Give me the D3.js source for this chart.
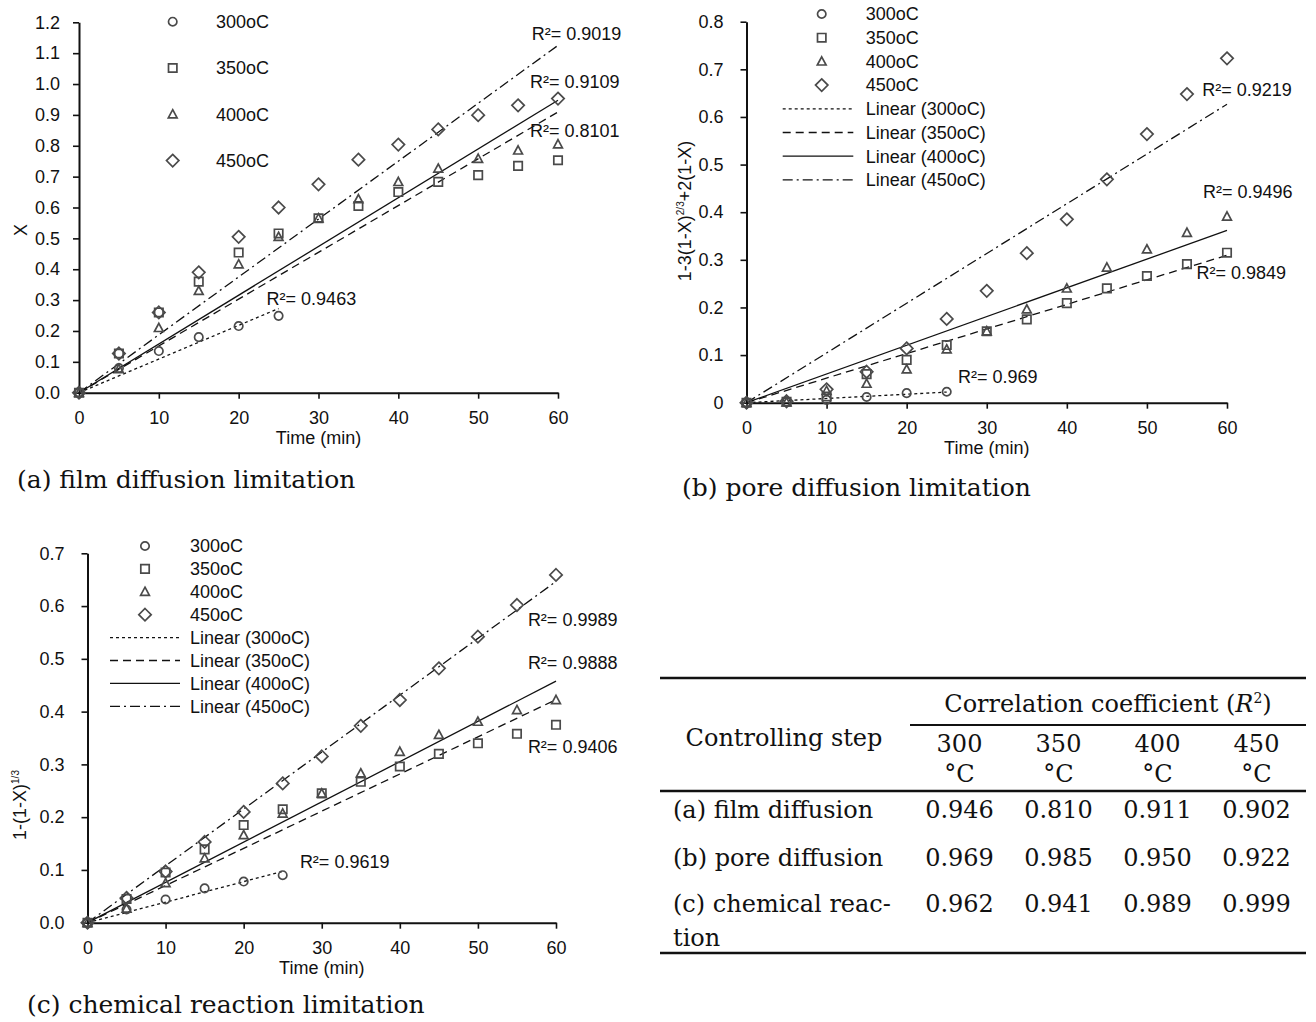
<!DOCTYPE html>
<html><head><meta charset="utf-8">
<script src="https://cdn.jsdelivr.net/npm/d3@7/dist/d3.min.js"></script>
<style>
body{margin:0;background:#fff}
svg text{font-family:"Liberation Sans",Arial,sans-serif;fill:#111}
svg text.serif{font-family:"DejaVu Serif","Liberation Serif",serif}
</style>
</head><body>
<svg id="chart" width="1316" height="1022"></svg>
<script>
// ---------------- DATA ----------------
const times = [0,5,10,15,20,25,30,35,40,45,50,55,60];
const seriesNames = ["300oC","350oC","400oC","450oC"];
const linearNames = ["Linear (300oC)","Linear (350oC)","Linear (400oC)","Linear (450oC)"];

// (a) film diffusion: X vs time
const film300 = [0,0.08,0.135,0.18,0.216,0.249];
const film350 = [0,0.127,0.26,0.36,0.454,0.516,0.565,0.605,0.65,0.683,0.705,0.735,0.753];
const film400 = [0,0.077,0.21,0.33,0.416,0.505,0.565,0.627,0.683,0.726,0.758,0.785,0.805];
const film450 = [0,0.127,0.26,0.39,0.505,0.60,0.675,0.755,0.804,0.853,0.899,0.931,0.953];
const filmR2 = ["0.9463","0.8101","0.9109","0.9019"];

// (b) pore diffusion: 1-3(1-X)^(2/3)+2(1-X) vs time
const pore300 = [0,0.002,0.006,0.012,0.02,0.023];
const pore350 = [0,0.002,0.013,0.06,0.09,0.121,0.15,0.175,0.209,0.240,0.266,0.291,0.315];
const pore400 = [0,0.001,0.025,0.04,0.07,0.112,0.15,0.196,0.240,0.284,0.322,0.357,0.391];
const pore450 = [0,0.003,0.028,0.065,0.114,0.176,0.235,0.314,0.385,0.469,0.564,0.648,0.723];
const poreR2 = ["0.969","0.9849","0.9496","0.9219"];

// (c) chemical reaction: 1-(1-X)^(1/3) vs time
const chem300 = [0,0.025,0.044,0.065,0.078,0.090];
const chem350 = [0,0.045,0.095,0.139,0.185,0.215,0.245,0.267,0.296,0.320,0.340,0.358,0.375];
const chem400 = [0,0.027,0.075,0.122,0.166,0.207,0.245,0.283,0.324,0.356,0.381,0.403,0.422];
const chem450 = [0,0.047,0.097,0.153,0.210,0.264,0.315,0.373,0.422,0.482,0.542,0.602,0.659];
const chemR2 = ["0.9619","0.9406","0.9888","0.9989"];

const xTicks = [0,10,20,30,40,50,60];
const filmYTicks = [0,0.1,0.2,0.3,0.4,0.5,0.6,0.7,0.8,0.9,1.0,1.1,1.2];
const poreYTicks = [0,0.1,0.2,0.3,0.4,0.5,0.6,0.7,0.8];
const chemYTicks = [0,0.1,0.2,0.3,0.4,0.5,0.6,0.7];

// table
const tableStepHeader = "Controlling step";
const tableTemps = ["300","350","400","450"];
const tableSteps = [["(a) film diffusion"],["(b) pore diffusion"],["(c) chemical reac-","tion"]];
const tableValues = [
  ["0.946","0.810","0.911","0.902"],
  ["0.969","0.985","0.950","0.922"],
  ["0.962","0.941","0.989","0.999"]
];
const captions = ["(a) film diffusion limitation","(b) pore diffusion limitation","(c) chemical reaction limitation"];

// ---------------- DRAW ----------------
const svg = d3.select("#chart");
const dashes = ["3,3","8,5",null,"10,4,2,4"];
const markerStroke = "#4a4a4a";

function markerPath(i){
  if(i===0){ return "M-4.2,0a4.2,4.2 0 1,0 8.4,0a4.2,4.2 0 1,0 -8.4,0Z"; }
  if(i===1){ return "M-4.2,-4.2H4.2V4.2H-4.2Z"; }
  if(i===2){ return "M0,-4.6L4.4,3.6H-4.4Z"; }
  return "M0,-6.2L6.2,0L0,6.2L-6.2,0Z";
}

function slopeThroughOrigin(xs, ys){
  let sxy=0, sxx=0;
  ys.forEach((y,i)=>{ sxy += xs[i]*y; sxx += xs[i]*xs[i]; });
  return sxy/sxx;
}

function drawPanel(cfg){
  const g = svg.append("g");
  const x = d3.scaleLinear().domain([0,60]).range(cfg.xRange);
  const y = d3.scaleLinear().domain([0,cfg.yMax]).range(cfg.yRange);

  // axes
  const xa = g.append("g").attr("transform",`translate(0,${cfg.yRange[0]})`)
    .call(d3.axisBottom(x).tickValues(xTicks).tickSize(6).tickSizeOuter(0).tickPadding(13));
  const ya = g.append("g").attr("transform",`translate(${cfg.xRange[0]},0)`)
    .call(d3.axisLeft(y).tickValues(cfg.yTicks).tickSize(6).tickSizeOuter(0).tickPadding(cfg.yPad)
      .tickFormat(cfg.tickFmt));
  [xa,ya].forEach(a=>{
    a.select(".domain").attr("stroke","#111").attr("stroke-width",2);
    a.selectAll(".tick line").attr("stroke","#111").attr("stroke-width",1.6);
    a.selectAll("text").attr("font-size",18).attr("fill","#111")
      .attr("font-family","Liberation Sans, Arial, sans-serif");
  });

  // axis titles
  g.append("text").attr("x",(cfg.xRange[0]+cfg.xRange[1])/2).attr("y",cfg.yRange[0]+51)
    .attr("text-anchor","middle").attr("font-size",18).text("Time (min)");
  const yl = g.append("text").attr("transform",`translate(${cfg.yLabelPos[0]},${cfg.yLabelPos[1]}) rotate(-90)`)
    .attr("text-anchor","middle").attr("font-size",18);
  cfg.yLabel.forEach(p=>{
    const t = yl.append("tspan").text(p.t);
    if(p.sup){ t.attr("font-size",10).attr("dy",-7); }
    else if(p.after){ t.attr("dy",7); }
  });

  // trend lines
  cfg.series.forEach((ys,i)=>{
    const xs = times.slice(0,ys.length);
    const k = slopeThroughOrigin(xs,ys);
    const xm = xs[xs.length-1];
    g.append("line")
      .attr("x1",x(0)).attr("y1",y(0)).attr("x2",x(xm)).attr("y2",y(k*xm))
      .attr("stroke","#111").attr("stroke-width",1.3)
      .attr("stroke-dasharray",dashes[i]);
  });

  // markers
  cfg.series.forEach((ys,i)=>{
    g.selectAll(null).data(ys).enter().append("path")
      .attr("transform",(d,j)=>`translate(${x(times[j])},${y(d)})`)
      .attr("d",markerPath(i)).attr("fill","none")
      .attr("stroke",markerStroke).attr("stroke-width",1.7);
  });

  // R2 labels
  cfg.r2.forEach((r,i)=>{
    const p = cfg.r2Pos[i];
    g.append("text").attr("x",x(p[0])).attr("y",y(p[1])).attr("dy","0.35em")
      .attr("font-size",18).text("R\u00B2= "+r);
  });

  // legend
  const L = cfg.legend;
  seriesNames.forEach((n,i)=>{
    const yy = L.y0 + i*L.dy;
    g.append("path").attr("transform",`translate(${L.symX},${yy})`).attr("d",markerPath(i))
      .attr("fill","none").attr("stroke",markerStroke).attr("stroke-width",1.7);
    g.append("text").attr("x",L.textX).attr("y",yy).attr("dy","0.35em").attr("font-size",18).text(n);
  });
  if(L.linear){
    linearNames.forEach((n,i)=>{
      const yy = L.y0 + (i+4)*L.dy;
      g.append("line").attr("x1",L.lineX[0]).attr("x2",L.lineX[1]).attr("y1",yy).attr("y2",yy)
        .attr("stroke","#111").attr("stroke-width",1.3).attr("stroke-dasharray",dashes[i]);
      g.append("text").attr("x",L.textX).attr("y",yy).attr("dy","0.35em").attr("font-size",18).text(n);
    });
  }
}

const fmt1 = d3.format(".1f");
drawPanel({
  xRange:[79,558], yRange:[392.7,22.3], yMax:1.2, yTicks:filmYTicks, tickFmt:fmt1, yPad:13,
  series:[film300,film350,film400,film450], r2:filmR2,
  r2Pos:[[23.5,0.306],[56.5,0.850],[56.5,1.006],[56.7,1.163]],
  yLabel:[{t:"X"}], yLabelPos:[27,230],
  legend:{symX:172.7,textX:216,y0:21.7,dy:46.3,linear:false}
});
drawPanel({
  xRange:[746.5,1227], yRange:[402.7,21.7], yMax:0.8, yTicks:poreYTicks, yPad:17,
  tickFmt:d=>d===0?"0":fmt1(d),
  series:[pore300,pore350,pore400,pore450], r2:poreR2,
  r2Pos:[[26.4,0.055],[56.2,0.272],[57.0,0.443],[56.9,0.657]],
  yLabel:[{t:"1-3(1-X)"},{t:"2/3",sup:true},{t:"+2(1-X)",after:true}], yLabelPos:[691,211],
  legend:{symX:821.7,textX:865.7,y0:14,dy:23.7,linear:true,lineX:[782.7,853.3]}
});
drawPanel({
  xRange:[87.5,556], yRange:[922.7,553.3], yMax:0.7, yTicks:chemYTicks, tickFmt:fmt1, yPad:17,
  series:[chem300,chem350,chem400,chem450], r2:chemR2,
  r2Pos:[[27.2,0.116],[56.4,0.334],[56.4,0.492],[56.4,0.574]],
  yLabel:[{t:"1-(1-X)"},{t:"1/3",sup:true}], yLabelPos:[26,805],
  legend:{symX:145,textX:190,y0:546,dy:22.9,linear:true,lineX:[110,180]}
});

// captions
[[17,488],[682,496],[27,1013]].forEach((p,i)=>{
  svg.append("text").attr("class","serif").attr("x",p[0]).attr("y",p[1])
    .attr("font-size",25).text(captions[i]);
});

// table
const T = svg.append("g").attr("class","table");
const tx0 = 660, tx1 = 1306, colStart = 910, fs = 24;
const colX = d3.scaleBand().domain(tableTemps).range([colStart,tx1]);
const cx = t => colX(t)+colX.bandwidth()/2;
[[678,tx0],[725,colStart],[791,tx0],[953,tx0]].forEach(r=>{
  T.append("line").attr("x1",r[1]).attr("x2",tx1).attr("y1",r[0]).attr("y2",r[0])
    .attr("stroke","#111").attr("stroke-width",r[0]===725?2:2.6);
});
const hdr = T.append("text").attr("class","serif").attr("x",(colStart+tx1)/2).attr("y",712)
  .attr("text-anchor","middle").attr("font-size",fs);
hdr.append("tspan").text("Correlation coefficient (");
hdr.append("tspan").attr("font-style","italic").text("R");
hdr.append("tspan").attr("font-size",14).attr("dy",-9).text("2");
hdr.append("tspan").attr("dy",9).text(")");
T.append("text").attr("class","serif").attr("x",784).attr("y",746).attr("text-anchor","middle")
  .attr("font-size",fs).text(tableStepHeader);
tableTemps.forEach(t=>{
  T.append("text").attr("class","serif").attr("x",cx(t)).attr("y",752).attr("text-anchor","middle")
    .attr("font-size",fs).text(t);
  T.append("text").attr("class","serif").attr("x",cx(t)).attr("y",782).attr("text-anchor","middle")
    .attr("font-size",fs).text("\u00B0C");
});
const rowY = [818,866,912];
tableSteps.forEach((lines,i)=>{
  lines.forEach((ln,k)=>{
    T.append("text").attr("class","serif").attr("x",673).attr("y",rowY[i]+k*34)
      .attr("font-size",fs).text(ln);
  });
  tableValues[i].forEach((v,j)=>{
    T.append("text").attr("class","serif").attr("x",cx(tableTemps[j])).attr("y",rowY[i])
      .attr("text-anchor","middle").attr("font-size",fs).text(v);
  });
});
</script>
</body></html>
